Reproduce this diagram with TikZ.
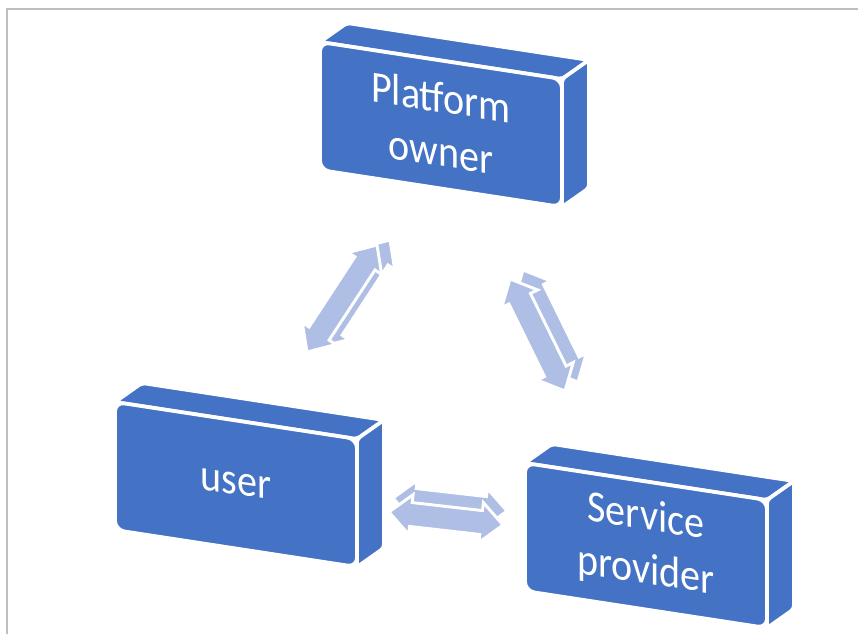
\documentclass[tikz,border=0pt]{standalone}
\usepackage{fontspec}
\setmainfont{Carlito}
\usepackage{xcolor}
\definecolor{boxblue}{RGB}{68,114,196}
\definecolor{arrowblue}{RGB}{174,190,228}
\definecolor{framegray}{RGB}{190,190,190}
\usepackage{tikz}
\usetikzlibrary{calc}

\tikzset{
  slabface/.style={fill=boxblue, draw=white, line width=3.2pt, rounded corners=3pt},
  slabtext/.style={text=white, align=center, font=\fontsize{38}{46}\selectfont, transform shape},
  arrowface/.style={fill=arrowblue, draw=white, line width=2.5pt},
}
\def\hl{6.6mm}
\def\hw{6mm}
\def\sw{3.6mm}
% 双向箭头轮廓
\newcommand{\arrowpath}[2]{%
  (#1) -- ($(#1)!\hl!(#2)!\hw!90:(#2)$) -- ($(#1)!\hl!(#2)!\sw!90:(#2)$)
  -- ($(#2)!\hl!(#1)!\sw!-90:(#1)$) -- ($(#2)!\hl!(#1)!\hw!-90:(#1)$)
  -- (#2) -- ($(#2)!\hl!(#1)!\hw!90:(#1)$) -- ($(#2)!\hl!(#1)!\sw!90:(#1)$)
  -- ($(#1)!\hl!(#2)!\sw!-90:(#2)$) -- ($(#1)!\hl!(#2)!\hw!-90:(#2)$) -- cycle}
\newcommand{\threedarrow}[3]{%
  \coordinate (#1-bk) at ($(#1)+#3$);
  \coordinate (#2-bk) at ($(#2)+#3$);
  \filldraw[arrowface] \arrowpath{#1-bk}{#2-bk};
  \filldraw[arrowface] \arrowpath{#1}{#2};
}
% 立体方块
\newcommand{\slab}[3]{%
  \filldraw[slabface] ($#2+(-121,-82)$) -- ($#2+(121,-45)$) -- ($#2+(148,-64)$) -- ($#2+(-94,-101)$) -- cycle;
  \filldraw[slabface] ($#2+(121,-45)$) -- ($#2+(121,83)$) -- ($#2+(148,64)$) -- ($#2+(148,-64)$) -- cycle;
  \filldraw[slabface, rounded corners=8pt] ($#2+(-121,-82)$) -- ($#2+(121,-45)$) -- ($#2+(121,83)$) -- ($#2+(-121,46)$) -- cycle;
  \begin{scope}[shift={#2}, yslant=-0.152, xscale=0.9]
    \node[slabtext] (#1) at (0,0) {#3};
  \end{scope}
}

\begin{document}
\begin{tikzpicture}[x=0.03cm, y=-0.03cm]
  \useasboundingbox (0,0) rectangle (858,634);
  % 边框
  \draw[framegray, line width=1.5pt] (7,634) -- (7,9) -- (858,9);
  % 三个角色
  \slab{po}{(441,124)}{Platform\\owner}
  \slab{usr}{(236,484)}{user}
  \slab{sp}{(646,545)}{Service\\provider}
  % 箭头端点
  \coordinate (pu1) at (307,352);
  \coordinate (pu2) at (377,245);
  \coordinate (ps1) at (510,279);
  \coordinate (ps2) at (565,391);
  \coordinate (us1) at (389,512);
  \coordinate (us2) at (503,525);
  \threedarrow{pu1}{pu2}{(13,-5)}
  \threedarrow{ps1}{ps2}{(13,-9)}
  \threedarrow{us1}{us2}{(4,-14)}
\end{tikzpicture}
\end{document}
